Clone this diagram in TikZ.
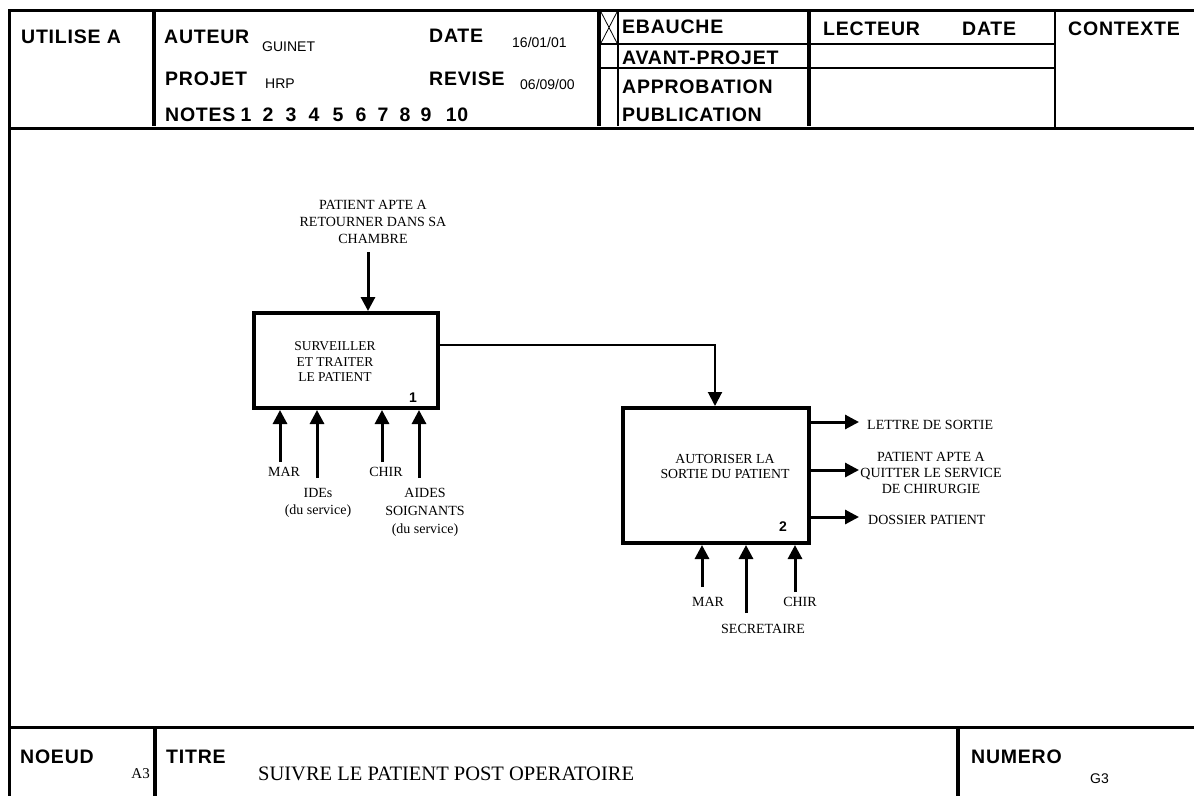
\documentclass[tikz,border=0pt]{standalone}
\usepackage{fontspec}
\setmainfont{Liberation Serif}
\newfontfamily\hdrfont[LetterSpace=4]{Liberation Sans Bold}
\newfontfamily\smallsans{Liberation Sans}
\usetikzlibrary{arrows.meta}
\begin{document}
\begin{tikzpicture}[x=1pt,y=-1pt,
  hdr/.style={font=\hdrfont\fontsize{19.5}{21}\selectfont, anchor=base west, inner sep=0pt},
  val/.style={font=\smallsans\fontsize{14}{16}\selectfont, anchor=base west, inner sep=0pt},
  lbl/.style={font=\fontsize{14}{17}\selectfont, align=center, inner sep=0pt},
  proc/.style={draw, line width=4pt, inner sep=0pt},
  num/.style={font=\hdrfont\fontsize{14}{16}\selectfont, inner sep=0pt},
  arr/.style={line width=3pt, -{Triangle[width=14pt,length=14pt]}},
  conn/.style={line width=2pt, -{Triangle[width=14pt,length=14pt]}},
  frameline/.style={line width=3pt},
  ]
\useasboundingbox (0,0) rectangle (1194,796);
% ---------- frame ----------
\draw[frameline] (1194,10) -- (9,10) -- (9,796);
\draw[frameline] (9,128) -- (1194,128);
\draw[frameline] (9,727) -- (1194,727);
% header rules
\draw[line width=4pt] (154,12) -- (154,126);
\draw[line width=4pt] (599,12) -- (599,126);
\draw[line width=2pt] (618,12) -- (618,126);
\draw[line width=4pt] (809,12) -- (809,126);
\draw[line width=2.5pt] (1055,10) -- (1055,128);
\draw[line width=1.5pt] (599,44) -- (1055,44);
\draw[line width=2.5pt] (599,68) -- (1055,68);
\draw[line width=0.8pt] (601,12) -- (617,43) (617,12) -- (601,43);
% footer rules
\draw[line width=4pt] (155,727) -- (155,796);
\draw[line width=4pt] (958,727) -- (958,796);
% ---------- header texts ----------
\node[hdr] (utilise) at (21,43) {UTILISE A};
\node[hdr] (auteur) at (164,43) {AUTEUR};
\node[val] (guinet) at (262,51) {GUINET};
\node[hdr] (date) at (429,42) {DATE};
\node[val] (dateval) at (512,47) {16/01/01};
\node[hdr] (projet) at (165,85) {PROJET};
\node[val] (hrp) at (265,88) {HRP};
\node[hdr] (revise) at (429,85) {REVISE};
\node[val] (reviseval) at (520,89) {06/09/00};
\node[hdr] (notes) at (165,121) {NOTES};
\foreach \i/\x in {1/246,2/268,3/291,4/314,5/338,6/361,7/383,8/405,9/426,10/457}
  \node[hdr, anchor=base] (n\i) at (\x,121) {\i};
\node[hdr] (ebauche) at (622,33) {EBAUCHE};
\node[hdr] (avant) at (622,64) {AVANT-PROJET};
\node[hdr] (approb) at (622,93) {APPROBATION};
\node[hdr] (publi) at (622,121) {PUBLICATION};
\node[hdr] (lecteur) at (823,35) {LECTEUR};
\node[hdr] (date2) at (962,35) {DATE};
\node[hdr] (contexte) at (1068,35) {CONTEXTE};
% ---------- footer texts ----------
\node[hdr] (noeud) at (20,763) {NOEUD};
\node[font=\fontsize{15}{17}\selectfont, anchor=base east, inner sep=0pt] (a3) at (150,778) {A3};
\node[hdr] (titre) at (166,763) {TITRE};
\node[font=\fontsize{20.5}{22}\selectfont, anchor=base west, inner sep=0pt] (titleval) at (258,780) {SUIVRE LE PATIENT POST OPERATOIRE};
\node[hdr] (numero) at (971,763) {NUMERO};
\node[val] (g3) at (1090,783) {G3};
% ---------- activity boxes ----------
\node[proc, minimum width=184pt, minimum height=95pt] (box1) at (346,360.5) {};
\node[lbl, font=\fontsize{13.5}{15.5}\selectfont] (box1t) at (335,362) {SURVEILLER\\ET TRAITER\\LE PATIENT};
\node[num] (box1n) at (413,398) {1};
\node[proc, minimum width=186pt, minimum height=135pt] (box2) at (716,475.5) {};
\node[lbl, font=\fontsize{13.8}{15}\selectfont] (box2t) at (725,466) {AUTORISER LA\\SORTIE DU PATIENT};
\node[num] (box2n) at (783,527) {2};
% ---------- box 1 arrows ----------
\node[lbl] (in1t) at (373,222) {PATIENT APTE A\\RETOURNER DANS SA\\CHAMBRE};
\coordinate (in1) at (368,252);
\draw[arr] (in1) -- (in1 |- box1.north);
\coordinate (m1a) at (280,462);
\coordinate (m1b) at (317,478);
\coordinate (m1c) at (382,462);
\coordinate (m1d) at (419,478);
\foreach \c in {m1a,m1b,m1c,m1d} \draw[arr] (\c) -- (\c |- box1.south);
\node[lbl] (mar1) at (284,472) {MAR};
\node[lbl] (ides) at (318,503) {IDEs\\(du service)};
\node[lbl] (chir1) at (386,472) {CHIR};
\node[lbl, font=\fontsize{14}{18}\selectfont] (aides) at (425,512) {AIDES\\SOIGNANTS\\(du service)};
% ---------- connection ----------
\coordinate (j1) at (715,345);
\draw[conn] (box1.east |- j1) -- (j1) -- (j1 |- box2.north);
% ---------- box 2 arrows ----------
\coordinate (m2a) at (702,587);
\coordinate (m2b) at (746,613);
\coordinate (m2c) at (795,592);
\foreach \c in {m2a,m2b,m2c} \draw[arr] (\c) -- (\c |- box2.south);
\node[lbl] (mar2) at (708,602) {MAR};
\node[lbl] (chir2) at (800,602) {CHIR};
\node[lbl] (secr) at (763,629) {SECRETAIRE};
\coordinate (o1) at (859,422);
\coordinate (o2) at (859,470);
\coordinate (o3) at (859,517);
\foreach \c in {o1,o2,o3} \draw[arr] (box2.east |- \c) -- (\c);
\node[lbl, anchor=west] (lettre) at (867,425) {LETTRE DE SORTIE};
\node[lbl, font=\fontsize{14}{16}\selectfont] (apte) at (931,472.5) {PATIENT APTE A\\QUITTER LE SERVICE\\DE CHIRURGIE};
\node[lbl, anchor=west] (dossier) at (868,520) {DOSSIER PATIENT};
\end{tikzpicture}
\end{document}
